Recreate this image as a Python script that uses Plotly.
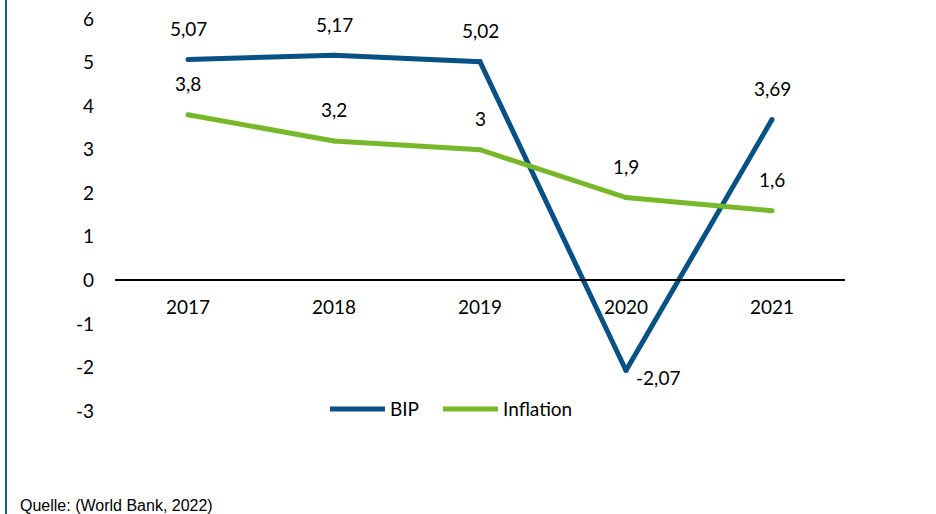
import plotly.graph_objects as go

years = ["2017", "2018", "2019", "2020", "2021"]
bip = [5.07, 5.17, 5.02, -2.07, 3.69]
inflation = [3.8, 3.2, 3.0, 1.9, 1.6]
y_ticks = [6, 5, 4, 3, 2, 1, 0, -1, -2, -3]
y_ticktext = ["6", "5", "4", "3", "2", "1", "0", "-1", "-2", "-3"]
source = "Quelle: (World Bank, 2022)"

BLUE = "#085184"
GREEN = "#76B82A"
FONT = "Lato"

W, H = 936, 514
L, R, T, B = 115, 91, 19, 103
PW, PH = W - L - R, H - T - B

fig = go.Figure()
for name, vals, col, leg in [("BIP", bip, BLUE, "legend"),
                             ("Inflation", inflation, GREEN, "legend2")]:
    fig.add_trace(go.Scatter(x=years, y=vals, name=name, mode="lines", legend=leg,
                             line=dict(color=col, width=5)))
    # round joins / caps
    fig.add_trace(go.Scatter(x=years, y=vals, mode="markers", showlegend=False,
                             hoverinfo="skip",
                             marker=dict(color=col, size=5, line=dict(width=0))))

def fmt(v):
    return f"{v:g}".replace(".", ",")

lab_font = dict(family=FONT, size=19, color="black")
ann = []
for i, v in enumerate(bip):
    if v < 0:
        ann.append(dict(x=i, y=v, text=fmt(v), showarrow=False, xshift=32, yshift=-7,
                        font=lab_font))
    else:
        ann.append(dict(x=i, y=v, text=fmt(v), showarrow=False, yshift=31,
                        font=lab_font))
for i, v in enumerate(inflation):
    ann.append(dict(x=i, y=v, text=fmt(v), showarrow=False, yshift=31, font=lab_font))
ann.append(dict(xref="paper", yref="paper", x=(18 - L) / PW, y=(PH + T - 505) / PH,
                xanchor="left", yanchor="middle", text=source, showarrow=False,
                font=dict(family="Liberation Sans, Arial", size=16, color="black")))

leg_common = dict(orientation="h", xanchor="left", y=0.005, yanchor="middle",
                  font=dict(family=FONT, size=19, color="black"), itemwidth=55,
                  bgcolor="rgba(0,0,0,0)")

fig.update_layout(
    template="none",
    width=W, height=H,
    margin=dict(l=L, r=R, t=T, b=B),
    paper_bgcolor="white", plot_bgcolor="white",
    font=dict(family=FONT, size=19, color="black"),
    showlegend=True,
    legend=dict(x=(325 - L) / PW, **leg_common),
    legend2=dict(x=(438 - L) / PW, **leg_common),
    annotations=ann,
    shapes=[dict(type="line", xref="paper", yref="paper",
                 x0=(6 - L) / PW, x1=(6 - L) / PW, y0=-2, y1=2,
                 line=dict(color="#1A5C94", width=2))],
)
fig.update_xaxes(type="category", range=[-0.5, 4.5], anchor="free", position=1 / 3,
                 showline=True, linecolor="black", linewidth=1.5, showgrid=False,
                 ticks="", ticklabelstandoff=10, zeroline=False, automargin=False,
                 tickfont=dict(family=FONT, size=19, color="black"))
fig.update_yaxes(range=[-3, 6], tickvals=y_ticks, ticktext=y_ticktext, showgrid=False,
                 zeroline=False, showline=False, ticks="", ticklabelstandoff=20,
                 ticklabeloverflow="allow", automargin=False,
                 tickfont=dict(family=FONT, size=19, color="black"))

fig.write_html(
    "out.html",
    config={"displayModeBar": False},
    post_script="document.body.style.margin='0';document.body.style.overflow='hidden';",
)
